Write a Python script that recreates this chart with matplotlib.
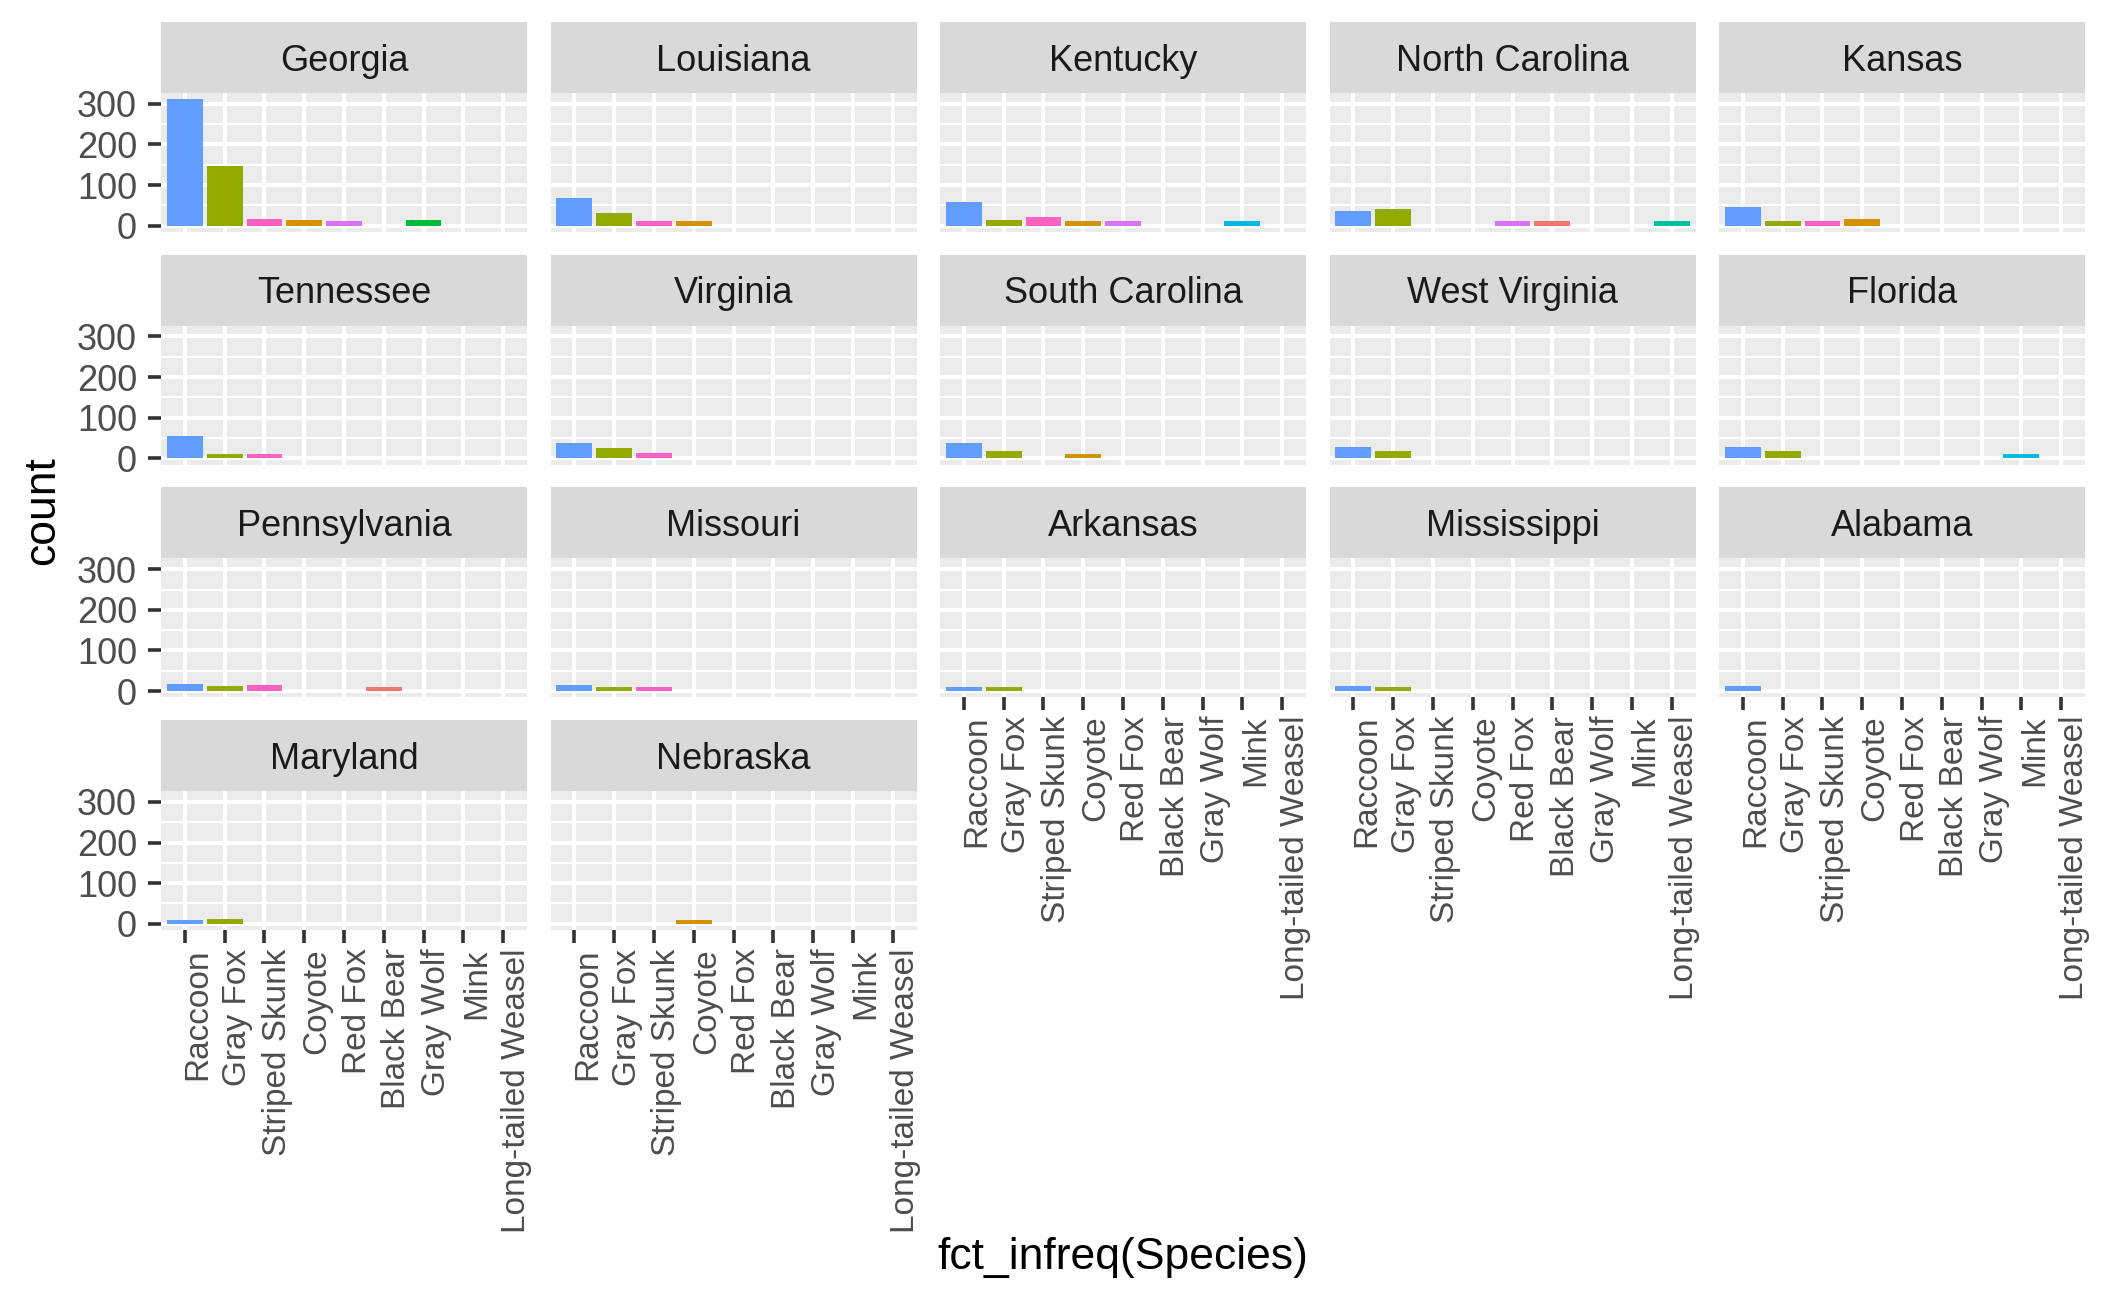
import matplotlib.pyplot as plt
from matplotlib.ticker import MultipleLocator
from matplotlib.transforms import ScaledTranslation

plt.rcParams['font.family'] = ['Liberation Sans', 'DejaVu Sans']

species = ["Raccoon", "Gray Fox", "Striped Skunk", "Coyote", "Red Fox",
           "Black Bear", "Gray Wolf", "Mink", "Long-tailed Weasel"]
species_colors = ["#619CFF", "#93AA00", "#FF61C3", "#D39200", "#DB72FB",
                  "#F8766D", "#00BA38", "#00B9E3", "#00C19F"]

states = ["Georgia", "Louisiana", "Kentucky", "North Carolina", "Kansas",
          "Tennessee", "Virginia", "South Carolina", "West Virginia", "Florida",
          "Pennsylvania", "Missouri", "Arkansas", "Mississippi", "Alabama",
          "Maryland", "Nebraska"]

# counts per state, in species order
georgia = [311, 147, 16, 13, 11, 0, 13, 0, 0]
louisiana = [68, 30, 11, 11, 0, 0, 0, 0, 0]
kentucky = [59, 13, 21, 11, 11, 0, 0, 11, 0]
north_carolina = [37, 42, 0, 0, 11, 11, 0, 0, 11]
kansas = [47, 11, 11, 16, 0, 0, 0, 0, 0]
tennessee = [55, 12, 10, 0, 0, 0, 0, 0, 0]
virginia = [38, 26, 14, 0, 0, 0, 0, 0, 0]
south_carolina = [38, 19, 0, 10, 0, 0, 0, 0, 0]
west_virginia = [29, 19, 0, 0, 0, 0, 0, 0, 0]
florida = [29, 19, 0, 0, 0, 0, 0, 10, 0]
pennsylvania = [18, 13, 16, 0, 0, 11, 0, 0, 0]
missouri = [16, 11, 11, 0, 0, 0, 0, 0, 0]
arkansas = [11, 11, 0, 0, 0, 0, 0, 0, 0]
mississippi = [13, 11, 0, 0, 0, 0, 0, 0, 0]
alabama = [13, 0, 0, 0, 0, 0, 0, 0, 0]
maryland = [10, 12, 0, 0, 0, 0, 0, 0, 0]
nebraska = [0, 0, 0, 10, 0, 0, 0, 0, 0]

state_counts = [georgia, louisiana, kentucky, north_carolina, kansas,
                tennessee, virginia, south_carolina, west_virginia, florida,
                pennsylvania, missouri, arkansas, mississippi, alabama,
                maryland, nebraska]

W, H = 2109, 1303
fig = plt.figure(figsize=(W / 100, H / 100), dpi=100)

ncol = 5
panel_w = 366
col_pitch = 389.5
strip_h = 71
panel_h = 139
row_pitch = 232.7
x0, y0 = 161, 22

ymax = max(max(c) for c in state_counts)
ylim = (-0.05 * ymax, 1.05 * ymax)
x = list(range(len(species)))

# ggplot puts the rotated labels a little right of their ticks
label_shift = ScaledTranslation(13 / 100, 0, fig.dpi_scale_trans)


def fig_box(px, py, pw, ph):
    return [px / W, 1 - (py + ph) / H, pw / W, ph / H]


for i, (state, counts) in enumerate(zip(states, state_counts)):
    r, c = divmod(i, ncol)
    px = x0 + c * col_pitch
    py = y0 + r * row_pitch

    # strip
    sax = fig.add_axes(fig_box(px, py, panel_w, strip_h))
    sax.set_facecolor("#D9D9D9")
    sax.set_xticks([])
    sax.set_yticks([])
    for s in sax.spines.values():
        s.set_visible(False)
    sax.text(0.5, 0.45, state, ha="center", va="center", fontsize=26,
             color="#1A1A1A", transform=sax.transAxes)

    ax = fig.add_axes(fig_box(px, py + strip_h, panel_w, panel_h))
    ax.set_facecolor("#EBEBEB")
    ax.bar(x, counts, width=0.9, color=species_colors, linewidth=0)
    ax.set_xlim(-0.6, len(species) - 0.4)
    ax.set_ylim(*ylim)
    ax.set_axisbelow(True)
    ax.yaxis.set_major_locator(MultipleLocator(100))
    ax.yaxis.set_minor_locator(MultipleLocator(50))
    ax.set_xticks(x)
    ax.grid(which="major", color="white", linewidth=2.9)
    ax.grid(which="minor", axis="y", color="white", linewidth=1.45)
    for s in ax.spines.values():
        s.set_visible(False)
    ax.tick_params(which="minor", length=0)
    ax.tick_params(which="major", length=9.2, width=2.6, color="#333333",
                   labelcolor="#4D4D4D")
    ax.tick_params(axis="y", labelsize=26, pad=8)
    ax.tick_params(axis="x", labelsize=24, pad=4)

    if c == 0:
        ax.set_yticklabels([str(int(t)) for t in ax.get_yticks()])
    else:
        ax.tick_params(axis="y", left=False, labelleft=False)

    bottom_of_col = (i + ncol >= len(states))
    if bottom_of_col:
        ax.set_xticklabels(species, rotation=90, ha="center", va="top")
        for lab in ax.get_xticklabels():
            lab.set_transform(lab.get_transform() + label_shift)
    else:
        ax.tick_params(axis="x", bottom=False, labelbottom=False)

fig.text(1123 / W, 1 - 1258 / H, "fct_infreq(Species)", ha="center",
         va="center", fontsize=32, color="black")
fig.text(43 / W, 1 - 511 / H, "count", ha="center", va="center",
         rotation=90, fontsize=32, color="black")

fig.savefig("out.png", dpi=100, facecolor="white")
